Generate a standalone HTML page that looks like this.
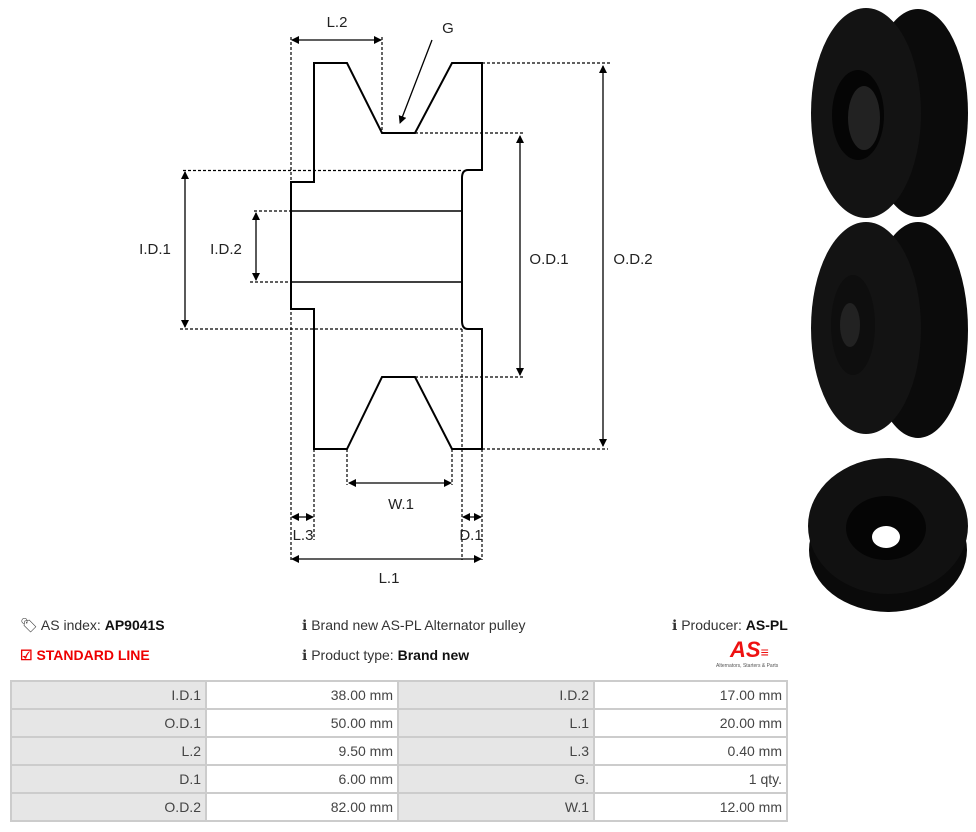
<!DOCTYPE html>
<html><head><meta charset="utf-8"><style>
body{margin:0;width:976px;height:832px;background:#fff;position:relative;overflow:hidden;font-family:"Liberation Sans",sans-serif;color:#333}
.t{position:absolute;font-size:14px;white-space:nowrap}
b{color:#111}
table{position:absolute;left:10px;top:680px;border-collapse:collapse;font-size:14px;table-layout:fixed;width:776px}
td{border:2px solid #ccc;height:26px;text-align:right;padding:0 4px;color:#444;overflow:hidden}
td.l{background:#e6e6e6}
</style></head><body>
<svg width="976" height="620" style="position:absolute;left:0;top:0" font-family="Liberation Sans, sans-serif">
<defs><marker id="a" markerWidth="8" markerHeight="8" refX="7" refY="4" orient="auto-start-reverse" markerUnits="userSpaceOnUse"><path d="M0,0 L8,4 L0,8z" fill="#000"/></marker></defs>
<g fill="none" stroke="#000" stroke-width="2">
<path d="M314,182 L314,63 L347,63 L382,133 L415,133 L452,63 L482,63 L482,170 L468,170 Q462,170 462,178 L462,321 Q462,329 468,329 L482,329 L482,449 L452,449 L415,377 L382,377 L347,449 L314,449 L314,309 L291,309 L291,182 Z"/>
<path d="M291,211 L462,211 M291,282 L462,282" stroke-width="1.5"/>
</g>
<g fill="none" stroke="#000" stroke-width="1.2" stroke-dasharray="3,2">
<path d="M291,37 V560 M382,37 V133 M314,449 V540 M347,449 V485 M452,449 V485 M462,329 V560 M482,449 V560"/>
<path d="M482,63 H610 M415,133 H524 M183,170.5 H462 M254,211 H291 M250,282 H291 M180,329 H462 M415,377 H524 M482,449 H608"/>
</g>
<g stroke="#000" stroke-width="1.3" marker-start="url(#a)" marker-end="url(#a)">
<line x1="292" y1="40" x2="381" y2="40"/>
<line x1="185" y1="172" x2="185" y2="327"/>
<line x1="256" y1="213" x2="256" y2="280"/>
<line x1="520" y1="136" x2="520" y2="375"/>
<line x1="603" y1="66" x2="603" y2="446"/>
<line x1="349" y1="483" x2="451" y2="483"/>
<line x1="292" y1="517" x2="313" y2="517"/>
<line x1="463" y1="517" x2="481" y2="517"/>
<line x1="292" y1="559" x2="481" y2="559"/>
</g>
<line x1="432" y1="40" x2="400" y2="123" stroke="#000" stroke-width="1.3" marker-end="url(#a)"/>
<g font-size="15" fill="#222" text-anchor="middle">
<text x="337" y="27">L.2</text><text x="448" y="33">G</text>
<text x="155" y="254">I.D.1</text><text x="226" y="254">I.D.2</text>
<text x="549" y="264">O.D.1</text><text x="633" y="264">O.D.2</text>
<text x="401" y="509">W.1</text><text x="303" y="540">L.3</text><text x="471" y="540">D.1</text><text x="389" y="583">L.1</text>
</g>
<g>
<ellipse cx="918" cy="113" rx="50" ry="104" fill="#0b0b0b"/>
<ellipse cx="866" cy="113" rx="55" ry="105" fill="#131313"/>
<ellipse cx="858" cy="115" rx="26" ry="45" fill="#050505"/>
<ellipse cx="864" cy="118" rx="16" ry="32" fill="#222"/>
<ellipse cx="918" cy="330" rx="50" ry="108" fill="#0b0b0b"/>
<ellipse cx="866" cy="328" rx="55" ry="106" fill="#131313"/>
<ellipse cx="853" cy="325" rx="22" ry="50" fill="#0e0e0e"/>
<ellipse cx="850" cy="325" rx="10" ry="22" fill="#222"/>
<ellipse cx="888" cy="550" rx="79" ry="62" fill="#0a0a0a"/>
<ellipse cx="888" cy="526" rx="80" ry="68" fill="#111"/>
<ellipse cx="886" cy="528" rx="40" ry="32" fill="#050505"/>
<ellipse cx="886" cy="537" rx="14" ry="11" fill="#fff"/>
</g>
</svg>
<div class="t" style="left:20px;top:617px">&#x1F3F7; AS index: <b>AP9041S</b></div>
<div class="t" style="left:20px;top:647px;color:#e00;font-weight:bold">&#9745; STANDARD LINE</div>
<div class="t" style="left:302px;top:617px">&#x2139; Brand new AS-PL Alternator pulley</div>
<div class="t" style="left:302px;top:647px">&#x2139; Product type: <b>Brand new</b></div>
<div class="t" style="left:672px;top:617px">&#x2139; Producer: <b>AS-PL</b></div>
<div class="t" style="left:730px;top:637px;color:#e11;font-weight:bold;font-style:italic;font-size:22px">AS<span style="font-size:14px">≡</span></div>
<div class="t" style="left:716px;top:663px;font-size:5px;color:#555">Alternators, Starters &amp; Parts</div>
<table>
<colgroup><col style="width:195px"><col style="width:192px"><col style="width:196px"><col style="width:193px"></colgroup>
<tr><td class="l">I.D.1</td><td>38.00 mm</td><td class="l">I.D.2</td><td>17.00 mm</td></tr>
<tr><td class="l">O.D.1</td><td>50.00 mm</td><td class="l">L.1</td><td>20.00 mm</td></tr>
<tr><td class="l">L.2</td><td>9.50 mm</td><td class="l">L.3</td><td>0.40 mm</td></tr>
<tr><td class="l">D.1</td><td>6.00 mm</td><td class="l">G.</td><td>1 qty.</td></tr>
<tr><td class="l">O.D.2</td><td>82.00 mm</td><td class="l">W.1</td><td>12.00 mm</td></tr>
</table>
</body></html>
